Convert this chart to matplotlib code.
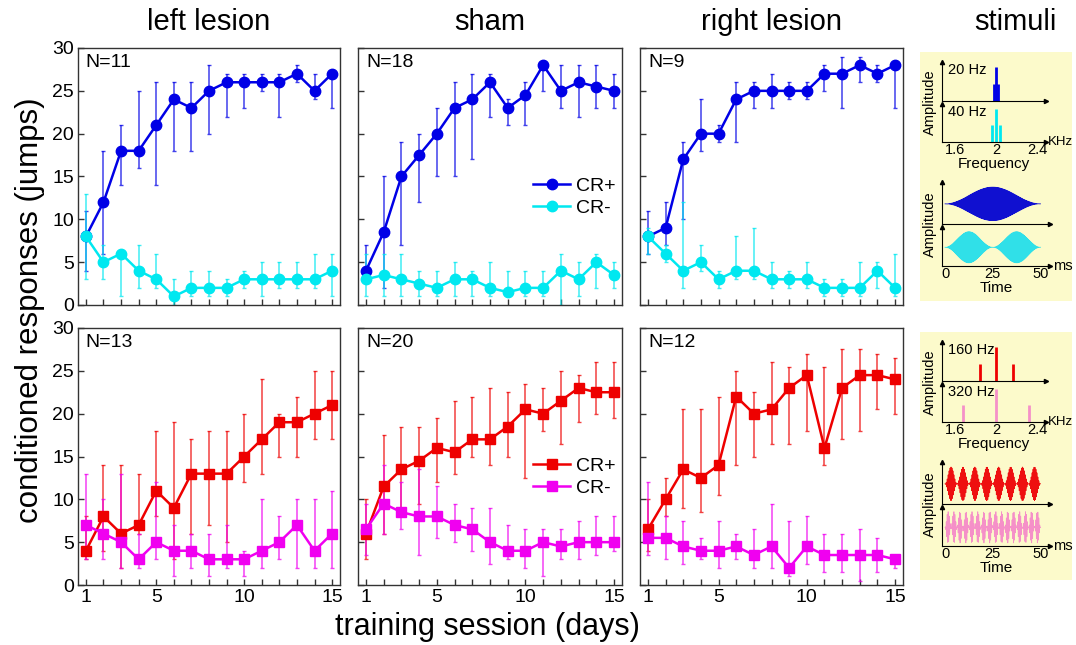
import numpy as np
import matplotlib.pyplot as plt

plt.rcParams['font.family'] = ['Liberation Sans', 'DejaVu Sans']

W, H = 1076, 645

days = np.arange(1, 16)
group_titles = ["left lesion", "sham", "right lesion"]
group_n_top = [11, 18, 9]
group_n_bottom = [13, 20, 12]

# top row: 20 Hz (CR+) vs 40 Hz (CR-) -- mean, lower, upper
ll_top_plus = [8, 12, 18, 18, 21, 24, 23, 25, 26, 26, 26, 26, 27, 25, 27]
ll_top_plus_lo = [4, 6, 14, 16, 14, 18, 18, 20, 22, 23, 25, 22, 26, 24, 23]
ll_top_plus_hi = [11, 18, 21, 25, 26, 26, 26, 28, 27, 27, 27, 27, 28, 27, 27]
ll_top_minus = [8, 5, 6, 4, 3, 1, 2, 2, 2, 3, 3, 3, 3, 3, 4]
ll_top_minus_lo = [3, 3, 1, 2, 2, 0, 1, 1, 1, 2, 1, 2, 2, 2, 1]
ll_top_minus_hi = [13, 7, 6, 7, 6, 3, 4, 4, 3, 4, 5, 5, 5, 6, 6]

sh_top_plus = [4, 8.5, 15, 17.5, 20, 23, 24, 26, 23, 24.5, 28, 25, 26, 25.5, 25]
sh_top_plus_lo = [3, 2, 7, 12, 15, 15, 17, 22, 21, 21, 25, 23, 22, 23, 23]
sh_top_plus_hi = [7, 15, 19, 20, 23, 26, 27, 27, 24, 26, 28, 28, 28, 28, 27]
sh_top_minus = [3, 3.5, 3, 2.5, 2, 3, 3, 2, 1.5, 2, 2, 4, 3, 5, 3.5]
sh_top_minus_lo = [1, 1, 1, 1, 1, 1, 1, 1, 1, 1, 1, 0, 1, 2, 2]
sh_top_minus_hi = [6, 6, 6, 4, 4, 5, 4, 5, 4, 4, 4, 6, 5, 6, 5]

rl_top_plus = [8, 9, 17, 20, 20, 24, 25, 25, 25, 25, 27, 27, 28, 27, 28]
rl_top_plus_lo = [6, 7, 10, 18, 19, 19, 23, 23, 24, 24, 25, 23, 26, 26, 23]
rl_top_plus_hi = [11, 12, 19, 24, 21, 26, 26, 27, 26, 26, 28, 29, 29, 28, 28]
rl_top_minus = [8, 6, 4, 5, 3, 4, 4, 3, 3, 3, 2, 2, 2, 4, 2]
rl_top_minus_lo = [6, 5, 2, 4, 2, 3, 3, 2, 2, 2, 1, 1, 1, 2, 1]
rl_top_minus_hi = [9, 7, 12, 7, 4, 8, 9, 5, 4, 5, 3, 3, 5, 5, 6]

# bottom row: 160 Hz (CR+) vs 320 Hz (CR-)
ll_bot_plus = [4, 8, 6, 7, 11, 9, 13, 13, 13, 15, 17, 19, 19, 20, 21]
ll_bot_plus_lo = [3, 4, 2, 6, 8, 3, 6, 7, 5, 12, 13, 15, 15, 17, 17]
ll_bot_plus_hi = [8, 14, 14, 13, 18, 19, 17, 18, 18, 20, 24, 20, 22, 25, 25]
ll_bot_minus = [7, 6, 5, 3, 5, 4, 4, 3, 3, 3, 4, 5, 7, 4, 6]
ll_bot_minus_lo = [3, 3, 2, 2, 3, 1, 2, 1, 2, 1, 2, 3, 2, 2, 2]
ll_bot_minus_hi = [13, 10, 13, 6, 12, 7, 6, 6, 7, 4, 10, 8, 10, 10, 11]

sh_bot_plus = [6, 11.5, 13.5, 14.5, 16, 15.5, 17, 17, 18.5, 20.5, 20, 21.5, 23, 22.5, 22.5]
sh_bot_plus_lo = [3, 6, 9, 9.5, 12, 13, 15, 14, 15, 12.5, 18, 16.5, 19, 20, 19.5]
sh_bot_plus_hi = [10, 17.5, 18.5, 18.5, 19.5, 21.5, 22, 23, 22.5, 23.5, 23, 25, 24.5, 26, 26]
sh_bot_minus = [6.5, 9.5, 8.5, 8, 8, 7, 6.5, 5, 4, 4, 5, 4.5, 5, 5, 5]
sh_bot_minus_lo = [3.5, 6, 6.5, 3.5, 5.5, 5, 4, 2.5, 3, 2, 1, 3, 3, 3.5, 4]
sh_bot_minus_hi = [9.5, 14, 12, 13.5, 11.5, 9.5, 9, 9, 7, 6.5, 6.5, 6.5, 7.5, 8, 8]

rl_bot_plus = [6.5, 10, 13.5, 12.5, 14, 22, 20, 20.5, 23, 24.5, 16, 23, 24.5, 24.5, 24]
rl_bot_plus_lo = [4, 8, 9, 8.5, 10.5, 14, 15, 16.5, 16.5, 18, 14, 17, 18, 20.5, 20]
rl_bot_plus_hi = [10, 12.5, 20.5, 20.5, 22, 25, 22.5, 26, 25.5, 27, 25.5, 27.5, 27.5, 27, 26.5]
rl_bot_minus = [5.5, 5.5, 4.5, 4, 4, 4.5, 3.5, 4.5, 2, 4.5, 3.5, 3.5, 3.5, 3.5, 3]
rl_bot_minus_lo = [3.5, 3, 2.5, 3, 2, 3, 2, 2, 1, 2.5, 1.5, 1.5, 0.5, 1.5, 2]
rl_bot_minus_hi = [12, 8, 7.5, 5.5, 7.5, 6, 6.5, 9.5, 7.5, 8, 6, 6, 6.5, 5.5, 3.5]

# stimuli: AM tones on a 2 kHz carrier
carrier_khz = 2.0
mods_top_hz = [20, 40]
mods_bottom_hz = [160, 320]
sideband_amp = 0.5

c_blue, c_cyan = "#0000e6", "#00e8f0"
c_red, c_magenta = "#ee0000", "#f000f0"
c_pink = "#f590c8"
yellow = "#fcfacb"


def px_rect(x0, y0, x1, y1):
    return [x0 / W, 1 - y1 / H, (x1 - x0) / W, (y1 - y0) / H]


def plot_series(ax, mean, lo, hi, color, marker):
    mean = np.array(mean, float)
    err = [np.clip(mean - np.array(lo), 0, None), np.clip(np.array(hi) - mean, 0, None)]
    eb = ax.errorbar(days, mean, yerr=err, color=color, marker=marker, ms=7.5,
                     lw=1.8, elinewidth=1.1, capsize=1.5, capthick=1, ecolor=color)
    for c in eb[2]:
        c.set_alpha(0.75)
    for c in eb[1]:
        c.set_alpha(0.75)
    return eb


fig = plt.figure(figsize=(W / 100, H / 100), dpi=100)

col_x = [(78, 340), (358, 622), (640, 903)]
row_y = [(48, 305), (328, 585)]

top_data = [
    (ll_top_plus, ll_top_plus_lo, ll_top_plus_hi, ll_top_minus, ll_top_minus_lo, ll_top_minus_hi),
    (sh_top_plus, sh_top_plus_lo, sh_top_plus_hi, sh_top_minus, sh_top_minus_lo, sh_top_minus_hi),
    (rl_top_plus, rl_top_plus_lo, rl_top_plus_hi, rl_top_minus, rl_top_minus_lo, rl_top_minus_hi),
]
bot_data = [
    (ll_bot_plus, ll_bot_plus_lo, ll_bot_plus_hi, ll_bot_minus, ll_bot_minus_lo, ll_bot_minus_hi),
    (sh_bot_plus, sh_bot_plus_lo, sh_bot_plus_hi, sh_bot_minus, sh_bot_minus_lo, sh_bot_minus_hi),
    (rl_bot_plus, rl_bot_plus_lo, rl_bot_plus_hi, rl_bot_minus, rl_bot_minus_lo, rl_bot_minus_hi),
]

for r, (rows, ns, cols, mk) in enumerate([
        (top_data, group_n_top, (c_blue, c_cyan), "o"),
        (bot_data, group_n_bottom, (c_red, c_magenta), "s")]):
    for c in range(3):
        ax = fig.add_axes(px_rect(col_x[c][0], row_y[r][0], col_x[c][1], row_y[r][1]))
        p, plo, phi, m, mlo, mhi = rows[c]
        eb_p = plot_series(ax, p, plo, phi, cols[0], mk)
        eb_m = plot_series(ax, m, mlo, mhi, cols[1], mk)
        ax.set_xlim(0.55, 15.45)
        ax.set_ylim(0, 30)
        ax.set_yticks(range(0, 31, 5))
        ax.set_xticks(days)
        if r == 1:
            ax.set_xticklabels([str(d) if d in (1, 5, 10, 15) else "" for d in days])
        else:
            ax.set_xticklabels([])
        if c != 0:
            ax.set_yticklabels([])
        ax.tick_params(direction="in", length=4, width=1, labelsize=14, pad=3, colors="#333333",
                       labelcolor="black")
        for s in ax.spines.values():
            s.set_color("#333333")
            s.set_linewidth(1)
        ax.text(0.03, 0.975, f"N={ns[c]}", transform=ax.transAxes, va="top", ha="left", fontsize=14)
        if c == 1:
            ax.legend([eb_p[0], eb_m[0]], ["CR+", "CR-"], loc="center", bbox_to_anchor=(0.82, 0.42),
                      frameon=False, fontsize=14, handlelength=1.9, handletextpad=0.3,
                      labelspacing=0.25, numpoints=1)
        if r == 0:
            fig.text((col_x[c][0] + col_x[c][1]) / 2 / W, 1 - 22 / H, group_titles[c],
                     ha="center", va="center", fontsize=21)

fig.text(1015 / W, 1 - 22 / H, "stimuli", ha="center", va="center", fontsize=21)
fig.text(30 / W, 1 - 310 / H, "conditioned responses (jumps)", rotation=90,
         ha="center", va="center", fontsize=22.5)
fig.text(487 / W, 1 - 627 / H, "training session (days)", ha="center", va="center", fontsize=22)


def arrow_axes(ax):
    ax.set_facecolor("none")
    ax.spines[["top", "right"]].set_visible(False)
    ax.spines[["left", "bottom"]].set_linewidth(0.8)
    ax.plot(1, 0, ">k", ms=3, transform=ax.transAxes, clip_on=False)
    ax.plot(0, 1, "^k", ms=3, transform=ax.transAxes, clip_on=False)
    ax.set_yticks([])
    ax.tick_params(axis="x", length=0, labelsize=10.5, pad=1)


def stim_panel(box_top, box_bottom, mods, spec_colors, wave_colors):
    bg = fig.add_axes(px_rect(920, box_top, 1072, box_bottom))
    bg.set_facecolor(yellow)
    bg.set_xticks([])
    bg.set_yticks([])
    for s in bg.spines.values():
        s.set_visible(False)

    t = np.linspace(0, 50, 20001)
    spec_rows = [(10, 49), (52, 90)]
    wave_rows = [(130, 172), (175, 214)]
    for i, m in enumerate(mods):
        ax = fig.add_axes(px_rect(942, box_top + spec_rows[i][0], 1046, box_top + spec_rows[i][1]))
        arrow_axes(ax)
        freqs = [carrier_khz - m / 1000, carrier_khz, carrier_khz + m / 1000]
        amps = [sideband_amp, 1, sideband_amp]
        ax.vlines(freqs, 0, amps, color=spec_colors[i], lw=2)
        ax.set_xlim(1.475, 2.48)
        ax.set_ylim(0, 1.15)
        ax.text(0.06, 0.97, f"{m} Hz", transform=ax.transAxes, va="top", ha="left", fontsize=10.5)
        if i == 1:
            ax.set_xticks([1.6, 2, 2.4], ["1.6", "2", "2.4"])
            ax.set_xlabel("Frequency", fontsize=11, labelpad=0)
            ax.text(1.015, 0, "KHz", transform=ax.transAxes, va="center", ha="left", fontsize=9.5)
        else:
            ax.set_xticks([])

        wx = fig.add_axes(px_rect(942, box_top + wave_rows[i][0], 1050, box_top + wave_rows[i][1]))
        arrow_axes(wx)
        env = (1 - np.cos(2 * np.pi * m * t / 1000)) / 2
        wx.plot(t, env * np.sin(2 * np.pi * carrier_khz * t), color=wave_colors[i], lw=0.6)
        wx.set_xlim(-1.6, 55)
        wx.set_ylim(-1.2, 1.3)
        if i == 1:
            wx.set_xticks([0, 25, 50], ["0", "25", "50"])
            wx.set_xlabel("Time", fontsize=11, labelpad=0)
            wx.text(1.03, 0, "ms", transform=wx.transAxes, va="center", ha="left", fontsize=10.5)
        else:
            wx.set_xticks([])

    fig.text(930 / W, 1 - (box_top + 50) / H, "Amplitude", rotation=90, ha="center",
             va="center", fontsize=10.5)
    fig.text(930 / W, 1 - (box_top + 172) / H, "Amplitude", rotation=90, ha="center",
             va="center", fontsize=10.5)


stim_panel(52, 301, mods_top_hz, (c_blue, c_cyan), ("#1010d0", "#30e0e8"))
stim_panel(332, 580, mods_bottom_hz, (c_red, c_pink), ("#ee1010", c_pink))

fig.savefig("out.png", dpi=100)
